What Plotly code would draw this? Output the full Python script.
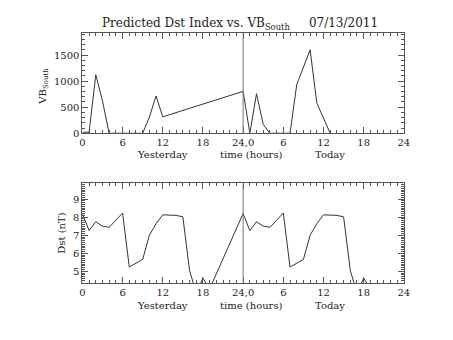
import plotly.graph_objects as go

# Hourly samples; "yesterday" hours 0-23 map to x 0-23, "today" to x 24-47
vb_hours_yesterday = [0, 1, 2, 3, 4, 5, 6, 7, 8, 9, 10, 11, 12]
vb_yesterday = [20, 20, 1120, 620, 0, 0, 0, 0, 0, 0, 310, 715, 316]
vb_hours_today = [0, 1, 2, 3, 4, 5, 6, 7, 8, 9, 10, 11, 12, 13]
vb_today = [804, 0, 760, 171, 0, 0, 0, 0, 930, 1280, 1600, 582, 290, 0]

dst_hours_yesterday = list(range(20))
dst_yesterday = [8.2, 7.26, 7.75, 7.5, 7.44, 7.83, 8.23, 5.24, 5.45, 5.66,
                 7.0, 7.64, 8.13, 8.13, 8.1, 8.02, 5.05, 3.8, 4.63, 4.03]
dst_hours_today = list(range(20))
dst_today = [8.2, 7.26, 7.75, 7.5, 7.44, 7.83, 8.23, 5.24, 5.45, 5.66,
             7.0, 7.64, 8.13, 8.13, 8.1, 8.02, 5.05, 3.8, 4.63, 4.03]

tick_vals = [0, 6, 12, 18, 24, 30, 36, 42, 48]
tick_text = ["0", "6", "12", "18", "24,0", "6", "12", "18", "24"]

vb_x = vb_hours_yesterday + [h + 24 for h in vb_hours_today]
vb_y = vb_yesterday + vb_today
dst_x = dst_hours_yesterday + [h + 24 for h in dst_hours_today]
dst_y = dst_yesterday + dst_today

FONT = "DejaVu Serif"
INK = "#222222"
AXIS = "#555555"

fig = go.Figure()
fig.add_trace(go.Scatter(x=vb_x, y=vb_y, mode="lines",
                         line=dict(color="#333333", width=1), xaxis="x", yaxis="y"))
fig.add_trace(go.Scatter(x=dst_x, y=dst_y, mode="lines",
                         line=dict(color="#333333", width=1), xaxis="x2", yaxis="y2"))

xdom = [81 / 453, 409 / 453]
common_x = dict(range=[0, 48], domain=xdom, tickmode="array", tickvals=tick_vals,
                ticktext=tick_text, ticks="inside", ticklen=6, tickcolor=AXIS,
                showline=True, linecolor=AXIS, linewidth=1, mirror="allticks",
                showgrid=False, zeroline=False,
                minor=dict(dtick=1, tick0=0, ticks="inside", ticklen=3, tickcolor=AXIS),
                tickfont=dict(family=FONT, size=10, color=INK))
common_y = dict(ticks="inside", ticklen=6, tickcolor=AXIS, showline=True,
                linecolor=AXIS, linewidth=1, mirror="allticks", showgrid=False,
                zeroline=False, tickfont=dict(family=FONT, size=10, color=INK))

fig.update_layout(
    width=453, height=340, margin=dict(l=0, r=0, t=0, b=0),
    paper_bgcolor="white", plot_bgcolor="white", showlegend=False,
    xaxis=dict(common_x, anchor="y"),
    yaxis=dict(common_y, domain=[1 - 135.7 / 340, 1 - 33.7 / 340], range=[0, 1920],
               tickvals=[0, 500, 1000, 1500],
               minor=dict(dtick=100, tick0=0, ticks="inside", ticklen=3, tickcolor=AXIS),
               anchor="x"),
    xaxis2=dict(common_x, anchor="y2"),
    yaxis2=dict(common_y, domain=[1 - 288 / 340, 1 - 186.7 / 340], range=[4.36, 9.87],
                tickvals=[5, 6, 7, 8, 9],
                minor=dict(dtick=0.1, tick0=0, ticks="inside", ticklen=3, tickcolor=AXIS),
                anchor="x2"),
)

# Day boundary marker in both panels
for xr, yr in (("x", "y domain"), ("x2", "y2 domain")):
    fig.add_shape(type="line", xref=xr, yref=yr, x0=24, x1=24, y0=0, y1=1,
                  line=dict(color="#777777", width=1))


def label(text, x, y, xref="paper", angle=0, size=10):
    return dict(text=text, x=x, y=y, xref=xref, yref="paper", textangle=angle,
                xanchor="center", yanchor="middle", showarrow=False,
                font=dict(family=FONT, size=size, color=INK))


ann = [label("Predicted Dst Index vs. VB<sub>South</sub>     07/13/2011",
             242 / 453, 1 - 24 / 340, size=12)]
for yc in (157.5, 310.5):
    for hx, txt in ((12, "Yesterday"), (25.3, "time (hours)"), (37, "Today")):
        ann.append(label(txt, hx, 1 - yc / 340, xref="x"))
ann.append(label("VB<sub>South</sub>", 41 / 453, 1 - 88 / 340, angle=-90))
ann.append(label("Dst (nT)", 60 / 453, 1 - 237 / 340, angle=-90))
fig.update_layout(annotations=ann)

fig.write_html("out.html")
